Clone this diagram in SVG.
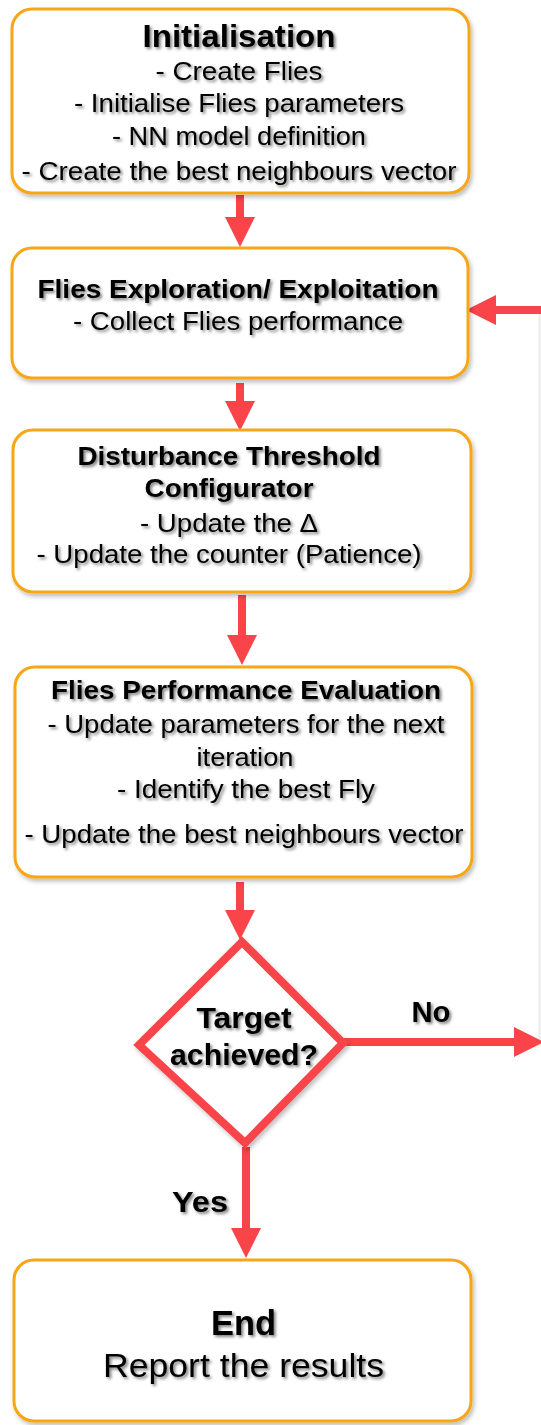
<svg xmlns="http://www.w3.org/2000/svg" width="541" height="1425" viewBox="0 0 541 1425">
<defs>
<style>
.box{fill:#fff;stroke:#F6A612;stroke-width:3;filter:url(#bsh)}
.t{font-family:"Liberation Sans",Arial,sans-serif;fill:#000;text-anchor:middle;filter:url(#tsh)}
.b{font-weight:bold}
.conn{stroke:#F94449;stroke-width:8;fill:none;marker-end:url(#ah)}
</style>
<filter id="bsh" x="-10%" y="-10%" width="120%" height="125%">
<feDropShadow dx="2" dy="3" stdDeviation="2" flood-color="#000" flood-opacity="0.25"/>
</filter>
<filter id="tsh" x="-10%" y="-20%" width="120%" height="160%">
<feDropShadow dx="2" dy="2" stdDeviation="1.5" flood-color="#000" flood-opacity="0.5"/>
</filter>
<marker id="ah" viewBox="0 0 30 30" markerWidth="30" markerHeight="30" refX="15" refY="15" orient="auto" markerUnits="userSpaceOnUse">
<path d="M0,0 L30,15 L0,30 z" fill="#F94449"/>
</marker>
</defs>
<rect width="541" height="1425" fill="#fff"/>

<g id="connectors">
<line x1="539.5" y1="306" x2="539.5" y2="1046" stroke="#ececec" stroke-width="2"/>
<line class="conn" x1="240" y1="195" x2="240" y2="232"/>
<line class="conn" x1="240" y1="383" x2="240" y2="416"/>
<line class="conn" x1="242" y1="595" x2="242" y2="650"/>
<line class="conn" x1="240" y1="882" x2="240" y2="925"/>
<line class="conn" x1="246" y1="1147" x2="246" y2="1243"/>
<line class="conn" x1="343" y1="1042" x2="529" y2="1042"/>
<line class="conn" x1="545" y1="310" x2="481" y2="310"/>
</g>

<g id="n1">
<rect class="box" x="12" y="9" width="457" height="184" rx="20"/>
<text class="t b" x="239" y="47" font-size="31" textLength="193" lengthAdjust="spacingAndGlyphs">Initialisation</text>
<text class="t" x="239" y="80" font-size="26" textLength="167" lengthAdjust="spacingAndGlyphs">- Create Flies</text>
<text class="t" x="239" y="112" font-size="26" textLength="330" lengthAdjust="spacingAndGlyphs">- Initialise Flies parameters</text>
<text class="t" x="239" y="145" font-size="26" textLength="254" lengthAdjust="spacingAndGlyphs">- NN model definition</text>
<text class="t" x="239" y="180" font-size="26" textLength="435" lengthAdjust="spacingAndGlyphs">- Create the best neighbours vector</text>
</g>

<g id="n2">
<rect class="box" x="12" y="248" width="456" height="130" rx="20"/>
<text class="t b" x="238" y="298" font-size="26" textLength="401" lengthAdjust="spacingAndGlyphs">Flies Exploration/ Exploitation</text>
<text class="t" x="238" y="330" font-size="26" textLength="330" lengthAdjust="spacingAndGlyphs">- Collect Flies performance</text>
</g>

<g id="n3">
<rect class="box" x="13" y="430" width="458" height="162" rx="20"/>
<text class="t b" x="229" y="465" font-size="26" textLength="303" lengthAdjust="spacingAndGlyphs">Disturbance Threshold</text>
<text class="t b" x="229" y="497" font-size="26" textLength="169" lengthAdjust="spacingAndGlyphs">Configurator</text>
<text class="t" x="229" y="532" font-size="26" textLength="178" lengthAdjust="spacingAndGlyphs">- Update the Δ</text>
<text class="t" x="229" y="563" font-size="26" textLength="385" lengthAdjust="spacingAndGlyphs">- Update the counter (Patience)</text>
</g>

<g id="n4">
<rect class="box" x="15" y="667" width="457" height="210" rx="20"/>
<text class="t b" x="246" y="699" font-size="26" textLength="390" lengthAdjust="spacingAndGlyphs">Flies Performance Evaluation</text>
<text class="t" x="246" y="733" font-size="26" textLength="397" lengthAdjust="spacingAndGlyphs">- Update parameters for the next</text>
<text class="t" x="245" y="766" font-size="26" textLength="97" lengthAdjust="spacingAndGlyphs">iteration</text>
<text class="t" x="246" y="798" font-size="26" textLength="258" lengthAdjust="spacingAndGlyphs">- Identify the best Fly</text>
<text class="t" x="244" y="843" font-size="26" textLength="439" lengthAdjust="spacingAndGlyphs">- Update the best neighbours vector</text>
</g>

<g id="n5">
<polygon points="242,942 343,1043 245,1143 139,1045" fill="#fff" stroke="#F94449" stroke-width="8" stroke-linejoin="miter" filter="url(#bsh)"/>
<text class="t b" x="244" y="1028" font-size="29" textLength="95" lengthAdjust="spacingAndGlyphs">Target</text>
<text class="t b" x="244" y="1065" font-size="29" textLength="148" lengthAdjust="spacingAndGlyphs">achieved?</text>
</g>

<g id="labels">
<text class="t b" x="431" y="1022" font-size="29" textLength="39" lengthAdjust="spacingAndGlyphs">No</text>
<text class="t b" x="200" y="1212" font-size="29" textLength="56" lengthAdjust="spacingAndGlyphs">Yes</text>
</g>

<g id="n6">
<rect class="box" x="14" y="1260" width="457" height="161" rx="20"/>
<text class="t b" x="243.5" y="1335" font-size="35" textLength="65" lengthAdjust="spacingAndGlyphs">End</text>
<text class="t" x="243.5" y="1377" font-size="33" textLength="281" lengthAdjust="spacingAndGlyphs">Report the results</text>
</g>
</svg>
